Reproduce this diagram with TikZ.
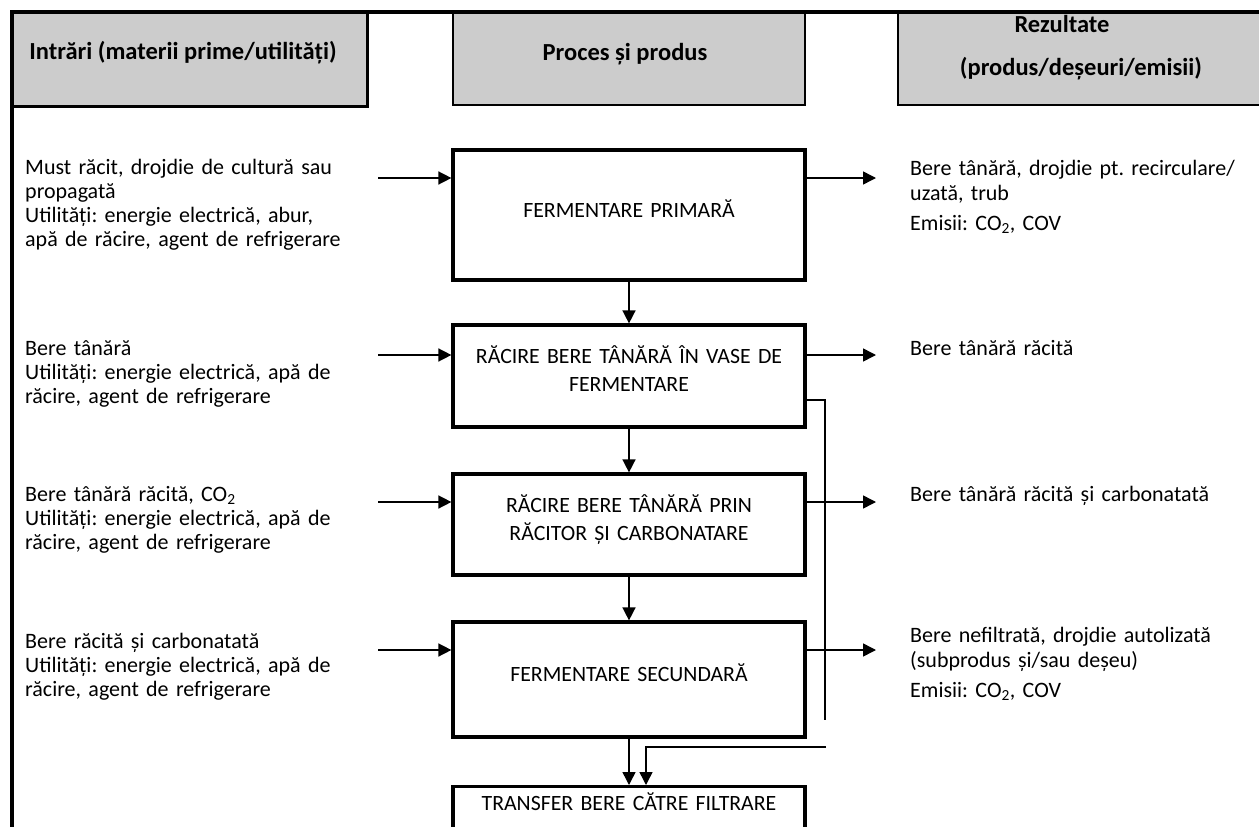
\documentclass[tikz,border=0pt]{standalone}
\usepackage{fontspec}
\setmainfont{Carlito}
\usetikzlibrary{arrows.meta,calc}
\definecolor{headgray}{RGB}{204,204,204}
\frenchspacing
\begin{document}
\begin{tikzpicture}[x=1pt,y=-1pt,
  procbox/.style={draw, line width=3.2pt, minimum width=352pt, inner sep=0pt,
    text width=340pt, align=center, font=\fontsize{21.8}{28}\selectfont},
  oneline/.style={text height=20pt, text depth=16pt},
  twolines/.style={text height=20pt, text depth=45pt},
  flow/.style={line width=1.5pt, -{Triangle[length=13pt,width=13pt]}},
  plainline/.style={line width=1.5pt},
  sidetext/.style={anchor=base west, inner sep=0pt, text width=420pt, align=left,
    font=\fontsize{22}{24}\selectfont},
  sidetextR/.style={sidetext, font=\fontsize{22}{25.5}\selectfont},
  headtext/.style={anchor=base, inner sep=0pt, font=\fontsize{24.5}{28}\selectfont\bfseries},
  headbox/.style={fill=headgray, draw, line width=2pt, inner sep=0pt}
]
\useasboundingbox (0,0) rectangle (1259,827);
\clip (0,0) rectangle (1259,827);

% column headers
\node[headbox, draw=none, minimum width=354pt, minimum height=93pt] (h1) at (189,58.5) {};
\draw[line width=3pt] (h1.north east) -- (h1.south east) -- (h1.south west);
\node[headbox, minimum width=352pt, minimum height=93pt] (h2) at (629,58.5) {};
\node[headbox, minimum width=366pt, minimum height=93pt] (h3) at (1081,58.5) {};
\node[headtext] (h1t) at (183,59) {Intrări (materii prime/utilități)};
\node[headtext] (h2t) at (625,60) {Proces și produs};
\node[headtext] (h3a) at (1062,32) {Rezultate};
\node[headtext] (h3b) at (1081,75) {(produs/deșeuri/emisii)};

% outer frame
\draw[line width=3.5pt] (12,829) -- (12,12) -- (1262,12);

% process steps
\node[procbox, oneline, minimum height=130pt] (b1) at (629,215) {FERMENTARE PRIMARĂ};
\node[procbox, twolines, minimum height=102pt] (b2) at (629,376) {RĂCIRE BERE TÂNĂRĂ ÎN VASE DE\\FERMENTARE};
\node[procbox, twolines, minimum height=101pt] (b3) at (629,524.5) {RĂCIRE BERE TÂNĂRĂ PRIN\\RĂCITOR ȘI CARBONATARE};
\node[procbox, oneline, minimum height=115pt] (b4) at (629,679.5) {FERMENTARE SECUNDARĂ};
\node[procbox, anchor=north, inner ysep=6pt, text height=18pt, text depth=40pt] (b5) at (629,785) {TRANSFER BERE CĂTRE FILTRARE};

% main flow
\draw[flow] (b1) -- (b2);
\draw[flow] (b2) -- (b3);
\draw[flow] (b3) -- (b4);
\draw[flow] (b4) -- (b5);

% bypass line on the right
\coordinate (byA) at (825,400);
\coordinate (byB) at (825,720);
\coordinate (byC) at (826,747);
\coordinate (byD) at (646,747);
\draw[plainline] (b2.east |- byA) -- (byA) -- (byB);
\draw[flow] (byC) -- (byD) -- (byD |- b5.north);

% inputs
\coordinate (in1) at (378,178);
\coordinate (in2) at (378,355);
\coordinate (in3) at (378,502);
\coordinate (in4) at (378,650);
\draw[flow] (in1) -- (in1 -| b1.west);
\draw[flow] (in2) -- (in2 -| b2.west);
\draw[flow] (in3) -- (in3 -| b3.west);
\draw[flow] (in4) -- (in4 -| b4.west);

% outputs
\coordinate (out1) at (876,178);
\coordinate (out2) at (876,355);
\coordinate (out3) at (876,502);
\coordinate (out4) at (876,650);
\draw[flow] (b1.east |- out1) -- (out1);
\draw[flow] (b2.east |- out2) -- (out2);
\draw[flow] (b3.east |- out3) -- (out3);
\draw[flow] (b4.east |- out4) -- (out4);

% input descriptions
\node[sidetext] (t1) at (25,174) {Must răcit, drojdie de cultură sau\\propagată\\Utilități: energie electrică, abur,\\apă de răcire, agent de refrigerare};
\node[sidetext] (t2) at (25,355) {Bere tânără\\Utilități: energie electrică, apă de\\răcire, agent de refrigerare};
\node[sidetext] (t3) at (25,501) {Bere tânără răcită, CO\textsubscript{2}\\Utilități: energie electrică, apă de\\răcire, agent de refrigerare};
\node[sidetext] (t4) at (25,648) {Bere răcită și carbonatată\\Utilități: energie electrică, apă de\\răcire, agent de refrigerare};

% output descriptions
\node[sidetextR] (r1) at (910,175) {Bere tânără, drojdie pt. recirculare/\\uzată, trub\\[4pt]Emisii: CO\textsubscript{2}, COV};
\node[sidetextR] (r2) at (910,355) {Bere tânără răcită};
\node[sidetextR] (r3) at (910,501) {Bere tânără răcită și carbonatată};
\node[sidetextR] (r4) at (910,642) {Bere nefiltrată, drojdie autolizată\\(subprodus și/sau deșeu)\\[4pt]Emisii: CO\textsubscript{2}, COV};
\end{tikzpicture}
\end{document}
